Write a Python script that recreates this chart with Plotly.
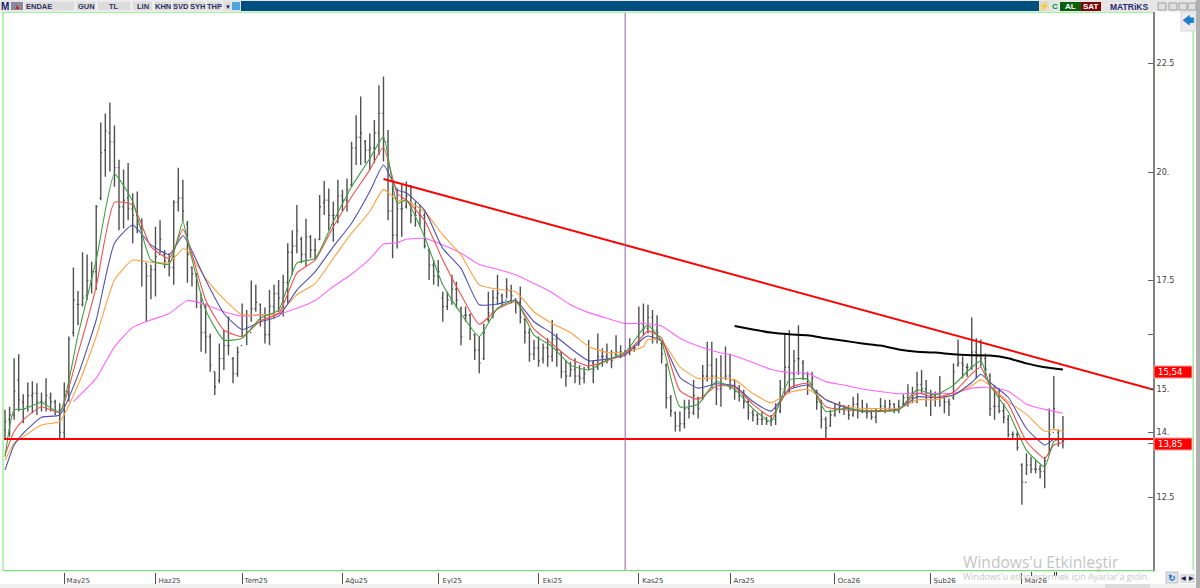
import plotly.graph_objects as go

# Daily price bars, bar index 0 is the first session shown
high = [
    14.52, 14.59, 15.71, 15.80, 14.88, 15.15, 15.18, 15.13, 14.92, 15.25,
    14.92, 14.75, 14.67, 15.15, 16.21, 17.80, 17.26, 18.15, 18.10, 17.93,
    19.24, 21.14, 21.35, 21.60, 21.07, 20.28, 20.06, 20.21, 19.51, 19.55,
    18.93, 17.90, 17.86, 18.74, 18.89, 18.20, 18.13, 19.35, 20.10, 19.82,
    18.87, 17.82, 17.67,
    17.20, 16.97, 16.28, 15.40, 16.05, 16.36, 16.67, 15.74, 15.98, 16.97,
    16.82, 17.50, 17.40, 16.97, 16.88, 17.28, 17.40, 17.51, 17.63, 18.36,
    18.66, 19.24, 18.51, 18.92, 18.55, 18.47, 19.47, 19.79, 19.62, 19.32,
    19.82, 19.59, 19.85, 20.70, 21.31, 21.74, 20.74, 20.89, 21.20, 22.00,
    22.20, 20.97, 19.74, 19.62, 19.74, 19.78, 19.70, 19.32, 19.24, 19.12,
    18.24, 17.97, 17.97,
    17.24, 17.24, 17.63, 17.47, 16.90, 16.90, 16.74, 16.28, 16.21, 16.51,
    17.24, 17.28, 17.63, 17.20, 17.55, 17.40, 17.09, 17.36, 16.63, 16.40,
    16.13, 16.21, 16.05, 16.17, 16.59, 16.28, 15.86, 15.67, 15.63, 15.71,
    15.55, 15.51, 16.13, 15.67, 16.28, 15.94, 16.05, 15.90, 16.24, 16.01,
    15.90, 16.17, 16.01, 16.90, 16.97, 16.94, 16.82, 16.70, 16.13, 15.59,
    14.86, 14.48, 14.48, 14.75, 14.75, 15.21, 14.82, 15.55, 16.09, 16.09,
    15.71, 15.78, 15.98, 15.82, 15.21, 15.09, 14.98, 14.75, 14.52, 14.44,
    14.48, 14.36, 14.40, 14.67, 15.21, 16.25, 16.36, 15.90, 16.47, 15.67,
    15.40, 15.40, 14.98, 14.75, 14.36, 14.52, 14.67, 14.71, 14.63, 14.63,
    14.82, 14.90, 14.75, 14.67, 14.52, 14.55, 14.79, 14.75, 14.75, 14.67,
    14.75, 14.88, 15.11, 15.05, 15.40, 15.44, 15.21, 14.98, 14.94, 15.30,
    14.82, 14.78, 15.59, 16.14, 15.75, 15.59, 16.65, 16.17, 16.14, 15.82,
    15.36, 15.09, 15.02, 14.67, 14.40, 14.02, 14.02, 13.29, 13.52, 13.44,
    13.36, 13.25, 13.44, 14.55, 15.30, 14.07, 14.38,
]
low = [
    13.86, 13.90, 14.29, 14.48, 14.21, 14.48, 14.44, 14.40, 14.48, 14.48,
    14.48, 14.40, 13.85, 13.86, 14.71, 16.21, 16.47, 16.90, 17.05, 17.20,
    17.28, 19.35, 19.89, 20.01, 19.66, 18.66, 18.70, 18.89, 18.36, 18.59,
    17.36, 16.55, 17.07, 17.13, 18.13, 17.78, 17.59, 17.40, 19.09, 18.86,
    17.45, 17.36, 16.86,
    15.86, 15.82, 15.40, 14.86, 15.13, 15.44, 15.78, 15.13, 15.28, 16.21,
    16.01, 16.55, 16.78, 16.44, 16.05, 16.01, 16.63, 16.78, 16.67, 16.97,
    17.63, 18.13, 17.90, 17.82, 18.01, 17.97, 18.43, 19.01, 18.66, 18.39,
    18.82, 19.09, 19.09, 19.66, 20.16, 20.16, 20.20, 20.05, 20.20, 20.39,
    20.24, 18.89, 18.01, 18.24, 18.51, 19.16, 18.82, 18.74, 18.74, 18.24,
    17.51, 17.40, 17.36,
    16.55, 16.82, 16.94, 16.86, 16.01, 16.55, 16.13, 15.67, 15.36, 15.67,
    16.55, 16.63, 16.94, 16.90, 17.09, 16.97, 16.74, 16.51, 16.05, 15.63,
    15.67, 15.51, 15.59, 15.51, 15.63, 15.51, 15.25, 15.05, 15.28, 15.13,
    15.09, 15.13, 15.44, 15.13, 15.44, 15.51, 15.59, 15.48, 15.75, 15.71,
    15.75, 15.78, 15.86, 16.01, 16.24, 16.28, 16.05, 16.05, 15.59, 14.55,
    14.36, 14.02, 14.02, 14.09, 14.32, 14.40, 14.32, 14.75, 15.17, 15.02,
    14.63, 14.59, 15.21, 14.98, 14.75, 14.71, 14.55, 14.29, 14.25, 14.17,
    14.17, 14.17, 14.15, 14.17, 14.44, 14.86, 14.90, 15.02, 15.32, 15.21,
    14.86, 14.98, 14.52, 14.09, 13.86, 14.13, 14.36, 14.44, 14.40, 14.29,
    14.36, 14.32, 14.44, 14.32, 14.29, 14.21, 14.48, 14.44, 14.48, 14.44,
    14.44, 14.63, 14.59, 14.67, 14.67, 14.90, 14.59, 14.38, 14.59, 14.59,
    14.44, 14.38, 14.75, 15.51, 15.25, 15.28, 15.44, 15.25, 15.51, 15.28,
    14.38, 14.29, 14.44, 14.21, 13.89, 13.86, 13.58, 12.33, 13.02, 13.06,
    13.06, 12.94, 12.71, 13.48, 14.09, 13.67, 13.63,
]
open_ = [
    14.05, 14.30, 14.40, 15.20, 14.70, 14.60, 14.85, 14.90, 14.70, 14.70,
    14.80, 14.70, 14.50, 14.00, 14.95, 16.30, 16.95, 16.95, 17.15, 17.50,
    17.70, 19.40, 20.50, 20.90, 20.70, 20.10, 19.20, 19.40, 19.15, 19.00,
    18.75, 17.90, 17.60, 17.75, 18.10, 18.10, 17.95, 17.80, 19.30, 19.40,
    18.80, 17.80, 17.60,
    16.90, 16.30, 16.20, 15.40, 15.20, 15.70, 16.00, 15.70, 15.35, 16.00,
    16.70, 16.30, 16.85, 16.95, 16.70, 16.25, 16.90, 17.20, 17.10, 17.45,
    18.15, 18.30, 18.45, 18.10, 18.50, 18.20, 18.45, 19.30, 19.35, 19.00,
    19.00, 19.45, 19.35, 19.70, 20.55, 20.80, 20.70, 20.50, 20.55, 20.90,
    21.35, 20.70, 19.10, 18.55, 19.15, 19.20, 19.45, 19.00, 19.00, 19.00,
    18.20, 17.85, 17.60,
    17.10, 16.90, 17.05, 17.30, 16.85, 16.70, 16.70, 16.25, 15.90, 15.70,
    16.60, 16.75, 17.10, 17.15, 17.05, 17.25, 17.05, 17.00, 16.60, 16.30,
    15.80, 15.95, 15.70, 15.95, 15.75, 16.15, 15.85, 15.40, 15.30, 15.45,
    15.30, 15.25, 15.50, 15.60, 15.50, 15.75, 15.75, 15.70, 15.80, 15.85,
    15.85, 15.90, 15.95, 16.00, 16.50, 16.40, 16.65, 16.35, 16.05, 15.55,
    14.80, 14.45, 14.15, 14.20, 14.55, 14.45, 14.80, 14.80, 15.30, 15.55,
    15.30, 15.00, 15.25, 15.30, 15.20, 14.95, 14.85, 14.70, 14.45, 14.40,
    14.30, 14.30, 14.25, 14.30, 14.50, 15.00, 15.50, 15.35, 15.70, 15.60,
    15.35, 15.10, 14.95, 14.70, 14.30, 14.15, 14.40, 14.55, 14.60, 14.55,
    14.40, 14.65, 14.50, 14.55, 14.45, 14.35, 14.50, 14.60, 14.55, 14.65,
    14.55, 14.65, 14.80, 14.90, 14.80, 15.10, 15.00, 14.90, 14.85, 14.80,
    14.80, 14.70, 14.80, 15.55, 15.60, 15.50, 15.50, 15.85, 15.75, 15.70,
    15.30, 14.60, 14.60, 14.50, 14.30, 13.95, 13.95, 13.25, 12.85, 13.25,
    13.15, 13.15, 13.10, 13.50, 14.00, 14.00, 13.80,
]
close = [
    14.25, 14.40, 14.95, 14.75, 14.55, 14.85, 14.90, 14.70, 14.70, 14.85,
    14.70, 14.50, 14.00, 14.95, 16.15, 17.05, 16.95, 17.10, 17.50, 17.70,
    19.20, 20.45, 20.95, 20.70, 20.10, 19.20, 19.35, 19.15, 19.00, 18.80,
    17.95, 17.60, 17.75, 18.05, 18.45, 17.95, 17.80, 19.30, 19.40, 19.10,
    18.10, 17.65, 17.00,
    16.30, 16.20, 15.55, 15.05, 15.70, 16.00, 16.00, 15.35, 15.85, 16.70,
    16.30, 16.85, 17.00, 16.70, 16.25, 16.90, 17.20, 17.10, 17.45, 18.15,
    18.30, 18.65, 18.10, 18.50, 18.20, 18.20, 19.20, 19.35, 19.00, 19.00,
    19.45, 19.35, 19.60, 20.55, 20.80, 20.90, 20.50, 20.55, 20.90, 21.35,
    20.70, 19.10, 18.55, 19.15, 19.15, 19.45, 19.00, 19.00, 19.00, 18.30,
    17.85, 17.60, 17.70,
    16.90, 17.05, 17.30, 17.05, 16.20, 16.70, 16.40, 15.90, 15.60, 16.30,
    16.75, 17.10, 17.20, 17.00, 17.30, 17.15, 17.00, 16.65, 16.30, 15.80,
    15.95, 15.65, 15.95, 15.75, 16.15, 15.90, 15.40, 15.30, 15.45, 15.30,
    15.25, 15.35, 15.65, 15.45, 15.75, 15.75, 15.70, 15.65, 15.85, 15.85,
    15.85, 15.95, 15.95, 16.50, 16.40, 16.65, 16.35, 16.30, 15.80, 14.80,
    14.50, 14.15, 14.20, 14.55, 14.45, 14.85, 14.55, 15.30, 15.55, 15.30,
    15.00, 15.25, 15.30, 15.20, 14.95, 14.85, 14.70, 14.45, 14.40, 14.30,
    14.30, 14.25, 14.30, 14.50, 15.00, 15.50, 15.35, 15.65, 15.70, 15.35,
    15.10, 15.25, 14.70, 14.30, 14.10, 14.40, 14.55, 14.60, 14.55, 14.40,
    14.65, 14.50, 14.55, 14.45, 14.35, 14.50, 14.60, 14.55, 14.65, 14.55,
    14.60, 14.80, 14.90, 14.80, 15.10, 15.00, 14.90, 14.85, 14.80, 14.90,
    14.70, 14.65, 15.40, 15.60, 15.55, 15.50, 15.85, 15.75, 15.70, 15.45,
    14.55, 14.60, 14.50, 14.35, 13.95, 13.95, 13.65, 12.85, 13.25, 13.15,
    13.15, 13.10, 13.35, 13.95, 14.55, 13.75, 13.80,
]

# Moving averages, read at the listed sessions
ma_bars = [
    0, 2, 4, 8, 12, 16, 20, 24, 28, 32, 36, 39, 40, 44, 48, 52, 56, 60, 64, 68, 72, 76, 80,
    83, 86, 88, 92, 96, 100, 104, 108, 112, 116, 120, 124, 128, 132, 136, 140, 141, 144, 148,
    152, 156, 160, 164, 168, 172, 176, 180, 184, 188, 192, 196, 200, 204, 208, 212, 214, 216,
    220, 224, 228, 230, 232,
]
ma_green = [
    13.44, 14.52, 14.53, 14.69, 14.46, 16.24, 17.97, 19.95, 19.32, 17.97, 17.88, 18.86, 18.43,
    16.82, 16.13, 16.17, 16.63, 16.82, 17.90, 18.01, 18.86, 19.66, 20.31,
    20.81, 19.28, 19.35, 18.51, 17.40, 16.74, 16.21, 16.86, 17.04, 16.24, 15.98, 15.55, 15.44,
    15.67, 15.84, 16.40, 16.47, 16.09, 14.59,
    14.65, 15.17, 14.99, 14.55, 14.25, 15.21, 15.22, 14.48, 14.55, 14.50, 14.48, 14.52, 14.98,
    14.86, 15.09, 15.50, 15.65, 15.09,
    14.48, 13.59, 13.21, 13.79, 13.86,
]
ma_red = [
    13.48, 14.02, 14.29, 14.59, 14.46, 15.82, 17.36, 19.30, 19.24, 18.28, 18.01, 18.68, 18.47,
    17.05, 16.36, 16.21, 16.57, 16.74, 17.67, 17.97, 18.74, 19.43, 20.05,
    20.57, 19.51, 19.35, 18.89, 17.97, 17.17, 16.49, 16.84, 17.01, 16.38, 16.04, 15.69, 15.53,
    15.65, 15.81, 16.24, 16.34, 16.17, 14.96,
    14.76, 15.07, 15.04, 14.65, 14.36, 15.02, 15.13, 14.59, 14.52, 14.50, 14.50, 14.53, 14.90,
    14.81, 14.92, 15.35, 15.50, 15.07,
    14.65, 13.79, 13.40, 13.71, 13.76,
]
ma_blue = [
    13.13, 13.71, 13.98, 14.35, 14.40, 15.32, 16.59, 18.36, 18.78, 18.32, 18.10, 18.53, 18.40,
    17.51, 16.74, 16.37, 16.55, 16.68, 17.28, 17.70, 18.28, 18.82, 19.55,
    20.16, 19.59, 19.52, 19.12, 18.24, 17.78, 16.94, 16.96, 17.04, 16.55, 16.28, 15.94, 15.65,
    15.69, 15.78, 16.17, 16.22, 16.11, 15.27,
    15.02, 15.12, 15.07, 14.71, 14.49, 14.98, 15.09, 14.75, 14.59, 14.48, 14.50, 14.53, 14.82,
    14.80, 14.86, 15.15, 15.34, 15.15,
    14.81, 14.09, 13.71, 13.84, 13.86,
]
ma_orange = [
    13.36, 13.75, 13.90, 14.17, 14.25, 15.09, 16.21, 17.51, 17.97, 17.92, 17.91, 18.23, 18.19,
    17.55, 17.07, 16.71, 16.71, 16.74, 17.17, 17.43, 18.01, 18.59, 19.09,
    19.60, 19.35, 19.34, 19.09, 18.55, 18.09, 17.40, 17.30, 17.24, 16.78, 16.51, 16.30, 15.98,
    15.84, 15.84, 15.98, 16.14, 16.11, 15.51,
    15.24, 15.26, 15.21, 14.90, 14.68, 14.92, 14.99, 14.76, 14.61, 14.55, 14.55, 14.55, 14.75,
    14.75, 14.86, 15.08, 15.21, 15.08,
    14.71, 14.42, 14.02, 14.07, 14.02,
]
ma_magenta_bars = [
    15, 20, 24, 28, 32, 36, 40, 44, 48, 52, 56, 60, 64, 68, 72, 76, 80, 83, 86, 88, 92, 96, 100,
    104, 108, 112, 116, 120, 124, 128, 132, 136, 140, 144, 148, 152, 156, 160, 164, 168, 172,
    176, 180, 184, 188, 192, 196, 200, 204, 208, 212, 216, 220, 224, 228, 232,
]
ma_magenta = [
    14.71, 15.25, 15.97, 16.42, 16.59, 16.74,
    17.04, 16.94, 16.78, 16.68, 16.71, 16.73, 16.86, 17.04, 17.36, 17.65,
    18.00, 18.34, 18.37, 18.45, 18.47, 18.32, 18.13, 17.87, 17.76, 17.63, 17.43,
    17.22, 16.94, 16.76, 16.63, 16.51, 16.51, 16.45, 16.17, 15.99, 15.86,
    15.76, 15.61, 15.45, 15.38, 15.36, 15.17, 15.09, 15.00, 14.94, 14.89,
    14.90, 14.90, 14.90, 15.02, 15.04, 14.95, 14.65, 14.53, 14.44,
]
ma_black_bars = list(range(160, 233, 4))
ma_black = [
    16.45, 16.37, 16.30, 16.26, 16.24, 16.17, 16.11, 16.05, 16.00, 15.91,
    15.86, 15.84, 15.80, 15.78, 15.77, 15.71, 15.59, 15.50, 15.45,
]

# Hand-drawn levels
trend_bars = [83, 251.75]
trend_prices = [19.84, 14.99]
support_price = 13.85
cursor_bar = 136

# Axis labelling
month_bars = [13, 33, 52, 74, 95, 117, 139, 159, 182, 203, 223]
month_labels = ["May25", "Haz25", "Tem25", "Ağu25", "Eyl25", "Eki25",
                "Kas25", "Ara25", "Oca26", "Şub26", "Mar26"]
price_ticks = [22.5, 20, 17.5, 16.25, 15, 14, 13.75, 12.5]
price_tick_text = ["22.5", "20.", "17.5", "", "15.", "14.", "", "12.5"]
value_tags = [("15,54", 372), ("13,85", 444)]

W, H = 1200, 588
bars = list(range(len(close)))


def px(x):
    return x / W


def py(y):
    return 1 - y / H


shapes = []
annotations = []


def box(x0, y0, x1, y1, fill, line=None):
    shapes.append(dict(type="rect", xref="paper", yref="paper", layer="above",
                       x0=px(x0), x1=px(x1), y0=py(y1), y1=py(y0),
                       fillcolor=fill, line=dict(width=1 if line else 0, color=line or fill)))


def label(x, y, text, color="#33335f", size=7.5, bold=True, family="Liberation Sans", anchor="center"):
    annotations.append(dict(xref="paper", yref="paper", x=px(x), y=py(y), text=f"<b>{text}</b>" if bold else text,
                            showarrow=False, xanchor=anchor, yanchor="middle", borderpad=0,
                            font=dict(family=family, size=size, color=color)))


fig = go.Figure()

fig.add_trace(go.Ohlc(
    x=bars, open=open_, high=high, low=low, close=close, tickwidth=0.28,
    increasing=dict(line=dict(color="#505050", width=1.4)),
    decreasing=dict(line=dict(color="#505050", width=1.4)),
))

for xs, ys, color, width in [
    (ma_magenta_bars, ma_magenta, "#ff66ff", 1.1),
    (ma_bars, ma_orange, "#ffa040", 1.1),
    (ma_bars, ma_blue, "#5050b0", 1.1),
    (ma_bars, ma_red, "#f05050", 1.1),
    (ma_bars, ma_green, "#40a040", 1.1),
    (ma_black_bars, ma_black, "#000000", 2),
]:
    fig.add_trace(go.Scatter(x=xs, y=ys, mode="lines",
                             line=dict(color=color, width=width, shape="spline", smoothing=0.5)))

fig.add_trace(go.Scatter(x=trend_bars, y=trend_prices, mode="lines",
                         line=dict(color="#ff0000", width=2)))
fig.add_trace(go.Scatter(x=[-0.44, 251.75], y=[support_price, support_price], mode="lines",
                         line=dict(color="#ff0000", width=2)))

shapes.append(dict(type="line", xref="x", yref="paper", x0=cursor_bar, x1=cursor_bar, y0=py(570), y1=py(12),
                   line=dict(color="#9a5fb0", width=1)))

# Frame around the plotting area
box(2, 12, 4, 570, "#b8f0b8")
box(2, 11.5, 1153, 13, "#a8f0a8")
box(1192.5, 12, 1194, 570, "#a8e8a8")
box(3, 571.2, 1153, 573, "#ffffff")
box(0, 584, 1196, 588, "#f0f0f0")
box(1196, 0, 1200, 588, "#b0b0b0")

# Toolbar along the top edge
box(0, 0, 1196, 11.5, "#e6e6e6")
box(241, 1, 1039, 11, "#00507f")
for x0, x1, text in [(24, 75, ""), (76, 96, "GUN"), (97, 131, "TL"), (132, 153, "LIN"), (154, 171, "KHN"),
                     (172, 189, "SVD"), (190, 205, "SYH"), (206, 222, "THP")]:
    box(x0, 1, x1, 11, "#dcdcdc", "#f4f4f4")
    if text:
        label((x0 + x1) / 2, 6.5, text)
label(25, 6.5, "ENDAE", anchor="left")
label(5, 6.5, "M", color="#1a1a70", size=10)
box(11, 2, 23, 10, "#8a8a9a")
label(17, 6, "▲", color="#d02020", size=7, bold=False)
box(224, 2, 231, 10, "#dcdcdc")
label(227.5, 6.5, "▼", color="#10104a", size=6, bold=False)
box(232, 2, 240, 10, "#4da6e0")
box(1039, 1, 1049, 11, "#e0dcc8")
label(1044, 6, "⚡", color="#e09020", size=8, bold=False)
box(1050, 1, 1059, 11, "#e0e8e0")
label(1054.5, 6.5, "C", color="#108050", size=8)
box(1060, 2, 1081, 11, "#0a5f0a")
label(1070.5, 6.5, "AL", color="#ffffff", size=8)
box(1081, 2, 1101, 11, "#7a0808")
label(1091, 6.5, "SAT", color="#ffffff", size=8)
label(1129, 6.5, "MATRiKS", color="#2a2a70", size=8.5)
for x0 in (1158, 1169, 1179, 1188):
    box(x0, 3, x0 + 8, 10, "#e0e0e0", "#a0a0a0")
box(1181, 12, 1195, 31, "#ececec", "#d8d8d8")
label(1187.5, 21, "🡄", color="#2080d0", size=12, bold=False)

# Last-value tags beside the price scale
for text, y in value_tags:
    box(1154, y - 6, 1192, y + 6, "#ff0000", "#f8a0a0")
    label(1157, y, text, color="#ffffff", size=8.5, bold=False, family="DejaVu Sans", anchor="left")

# Small markers under the last bars
for x0 in (1031, 1054, 1056):
    box(x0, 572, x0 + 1, 576, "#303030")

# Corner controls below the price scale
box(1166, 572, 1178, 583, "#e0e0e8", "#c0c0c8")
label(1172, 577.5, "↻", color="#1070c0", size=9)
box(1180, 574, 1187, 583, "#dcdcdc")
label(1183.5, 578, "◀", color="#10104a", size=6, bold=False)
box(1188, 574, 1195, 583, "#dcdcdc")
label(1191.5, 578, "▶", color="#10104a", size=6, bold=False)
box(1105, 584, 1150, 588, "#dcdcdc")

# System notice printed over the lower right corner
label(962, 562, "Windows'u Etkinleştir", color="#c4c4c4", size=15.6, bold=False, family="Open Sans", anchor="left")
label(962, 576, "Windows'u etkinleştirmek için Ayarlar'a gidin.", color="#c8c8c8", size=8.9, bold=False,
      family="Open Sans", anchor="left")

fig.update_layout(
    width=W, height=H, autosize=False, showlegend=False, hovermode=False,
    paper_bgcolor="#ffffff", plot_bgcolor="#ffffff",
    margin=dict(l=0, r=0, t=0, b=0),
    shapes=shapes, annotations=annotations,
    xaxis=dict(
        domain=[px(3), px(1153)], range=[-0.44, 251.75], rangeslider=dict(visible=False),
        tickmode="array", tickvals=month_bars, ticktext=month_labels,
        showgrid=False, zeroline=False, showline=True, linecolor="#80d880", linewidth=2,
        ticks="outside", ticklen=14, tickcolor="#505050", tickwidth=1,
        ticklabelshift=14, ticklabelstandoff=-11,
        tickfont=dict(family="DejaVu Sans", size=7, color="#404040"),
    ),
    yaxis=dict(
        domain=[py(570), py(12)], range=[10.829, 23.687], side="right",
        tickmode="array", tickvals=price_ticks, ticktext=price_tick_text,
        showgrid=False, zeroline=False, showline=True, linecolor="#808080", linewidth=2,
        ticks="inside", ticklen=5, tickcolor="#606060", tickwidth=1,
        tickfont=dict(family="DejaVu Sans", size=8, color="#404040"),
    ),
)

fig.write_html("out.html")
